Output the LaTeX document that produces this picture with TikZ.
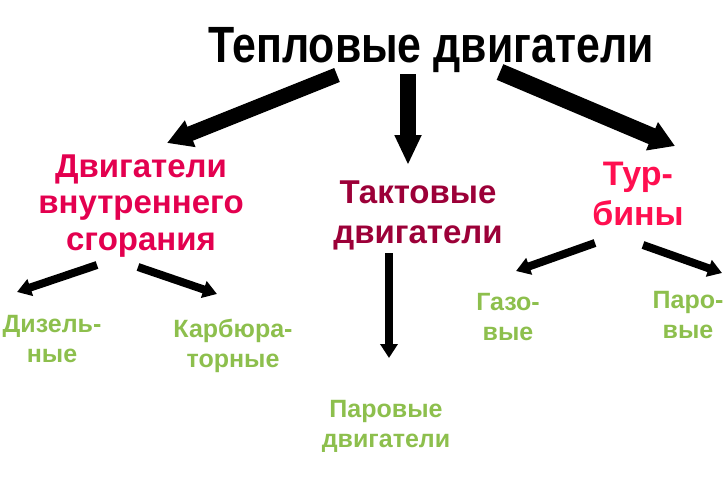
\documentclass[tikz,border=0pt]{standalone}
\usepackage{fontspec}
\setmainfont{Liberation Sans}
\newfontfamily\narrowsans[FakeStretch=0.84]{Liberation Sans}
\usetikzlibrary{arrows.meta}

\definecolor{dvsred}{HTML}{E3004F}
\definecolor{taktred}{HTML}{9C0038}
\definecolor{turbred}{HTML}{FF0F50}
\definecolor{leafgreen}{HTML}{8DBF4D}

\begin{document}
\begin{tikzpicture}[x=1pt,y=-1pt]
    % --- Styles ---
    \tikzset{
        big arrow/.style={line width=15pt, -{Triangle[length=25pt,width=27pt]}},
        small arrow/.style={line width=8pt, -{Triangle[length=14pt,width=17pt]}},
        kind text/.style={font=\bfseries\fontsize{33}{36.5}\selectfont,
            align=center, anchor=base, inner sep=0pt},
        sub text/.style={font=\bfseries\fontsize{25}{30}\selectfont,
            text=leafgreen, align=center, anchor=base, inner sep=0pt}
    }

    \useasboundingbox (0,0) rectangle (726,485);

    % =========================================================
    % 1) TEXT (anchored at the baseline of the last line)
    % =========================================================
    \node[anchor=base, inner sep=0pt, font=\narrowsans\bfseries\fontsize{51}{55}\selectfont]
      (heat) at (431,62) {Тепловые двигатели};

    \node[kind text, text=dvsred] (dvs) at (141,250)
      {Двигатели\\внутреннего\\сгорания};
    \node[kind text, text=taktred, font=\bfseries\fontsize{33}{40}\selectfont]
      (takt) at (418,243) {Тактовые\\двигатели};
    \node[kind text, text=turbred, font=\bfseries\fontsize{34}{40}\selectfont]
      (turb) at (638,225) {Тур-\\бины};

    \node[sub text] (diesel) at (52,362) {Дизель-\\ные};
    \node[sub text] (carb)   at (233,367) {Карбюра-\\торные};
    \node[sub text] (steam)  at (386,447) {Паровые\\двигатели};
    \node[sub text] (gas)    at (508,340) {Газо-\\вые};
    \node[sub text] (vapour) at (688,338) {Паро-\\вые};

    % =========================================================
    % 2) ARROW END POINTS
    % =========================================================
    \coordinate (heat a) at (337,75);  \coordinate (dvs top)  at (167,143);
    \coordinate (heat b) at (408,74);  \coordinate (takt top) at (408,165);
    \coordinate (heat c) at (500,72);  \coordinate (turb top) at (675,146);

    \coordinate (dvs a) at (97,265);   \coordinate (diesel top) at (17,292);
    \coordinate (dvs b) at (138,267);  \coordinate (carb top)   at (217,294);
    \coordinate (takt a) at (389,253); \coordinate (steam top)  at (389,358);
    \coordinate (turb a) at (595,243); \coordinate (gas top)    at (516,271);
    \coordinate (turb b) at (643,245); \coordinate (vapour top) at (722,273);

    % =========================================================
    % 3) ARROWS
    % =========================================================
    \draw[big arrow] (heat a) -- (dvs top);
    \draw[big arrow, line width=16pt, -{Triangle[length=30pt,width=25pt]}] (heat b) -- (takt top);
    \draw[big arrow, line width=17pt, -{Triangle[length=25pt,width=29pt]}] (heat c) -- (turb top);

    \draw[small arrow] (dvs a) -- (diesel top);
    \draw[small arrow] (dvs b) -- (carb top);
    \draw[small arrow] (takt a) -- (steam top);
    \draw[small arrow] (turb a) -- (gas top);
    \draw[small arrow] (turb b) -- (vapour top);

\end{tikzpicture}
\end{document}
